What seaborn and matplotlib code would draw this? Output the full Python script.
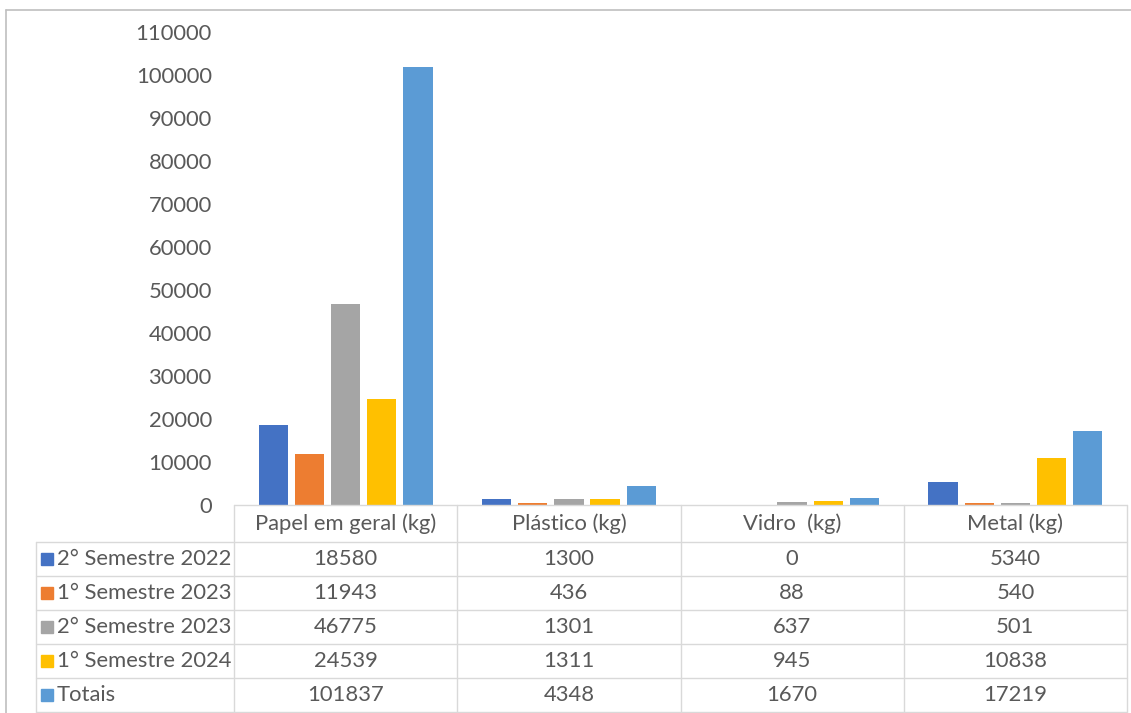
import matplotlib
matplotlib.use("Agg")
import matplotlib.pyplot as plt
import matplotlib.transforms as mtrans
from matplotlib.lines import Line2D
import seaborn as sns
import pandas as pd

# dados do grafico
categorias = ["Papel em geral (kg)", "Plástico (kg)", "Vidro  (kg)", "Metal (kg)"]
series = ["2° Semestre 2022", "1° Semestre 2023", "2° Semestre 2023",
          "1° Semestre 2024", "Totais"]
sem2_2022 = [18580, 1300, 0, 5340]
sem1_2023 = [11943, 436, 88, 540]
sem2_2023 = [46775, 1301, 637, 501]
sem1_2024 = [24539, 1311, 945, 10838]
totais = [101837, 4348, 1670, 17219]
valores = [sem2_2022, sem1_2023, sem2_2023, sem1_2024, totais]
cores = ["#4472C4", "#ED7D31", "#A5A5A5", "#FFC000", "#5B9BD5"]

W, H = 1131, 713
texto = "#595959"
grade = "#D9D9D9"
fs = 15.8

sns.set_theme(style="white")
plt.rcParams["font.family"] = ["Lato", "DejaVu Sans"]

df = pd.DataFrame(
    [(c, s, v) for s, vals in zip(series, valores) for c, v in zip(categorias, vals)],
    columns=["categoria", "serie", "valor"],
)

fig = plt.figure(figsize=(W / 100, H / 100), dpi=100)
ax = fig.add_axes([234 / W, 1 - 505 / H, 893 / W, 473 / H])
sns.barplot(data=df, x="categoria", y="valor", hue="serie", order=categorias,
            hue_order=series, palette=cores, width=0.81, gap=0.19, saturation=1,
            errorbar=None, linewidth=0, legend=False, ax=ax)

ax.set_xlim(-0.5, 3.5)
ax.set_ylim(0, 110000)
ax.set_yticks(range(0, 110001, 10000))
ax.set_xticks([])
ax.set_xlabel("")
ax.set_ylabel("")
ax.tick_params(axis="y", left=False, length=0, labelsize=fs, labelcolor=texto, pad=16)
sns.despine(ax=ax, left=True, bottom=True)

# tabela de dados abaixo do grafico
def yax(py):
    return (505 - py) / 473

blend = mtrans.blended_transform_factory(ax.transData, ax.transAxes)
linhas = [505, 542, 576, 610, 644, 678, 712]
x_esq = (36 - 234) / 893

ax.plot([-0.5, 3.5], [yax(505)] * 2, transform=blend, color=grade, lw=1, clip_on=False)
for py in linhas[1:]:
    ax.plot([x_esq, 1], [yax(py)] * 2, transform=ax.transAxes, color=grade, lw=1,
            clip_on=False)
for i in range(len(categorias) + 1):
    ax.plot([i - 0.5] * 2, [yax(505), yax(712)], transform=blend, color=grade, lw=1,
            clip_on=False)
ax.plot([x_esq] * 2, [yax(542), yax(712)], transform=ax.transAxes, color=grade, lw=1,
        clip_on=False)

for i, cat in enumerate(categorias):
    ax.text(i, yax(523.5), cat, transform=blend, ha="center", va="center",
            fontsize=fs, color=texto)

for r, (s, vals, cor) in enumerate(zip(series, valores, cores)):
    yc = yax((linhas[r + 1] + linhas[r + 2]) / 2)
    ax.plot([(47 - 234) / 893], [yc], transform=ax.transAxes, marker="s",
            markersize=8, color=cor, clip_on=False, lw=0)
    ax.text((57 - 234) / 893, yc, s, transform=ax.transAxes, ha="left",
            va="center", fontsize=fs, color=texto)
    for i, v in enumerate(vals):
        ax.text(i, yc, str(v), transform=blend, ha="center", va="center",
                fontsize=fs, color=texto)

# moldura do grafico
fig.add_artist(Line2D([6 / W, 1], [1 - 10 / H] * 2, transform=fig.transFigure,
                      color="#BFBFBF", lw=1.2))
fig.add_artist(Line2D([6 / W] * 2, [0, 1 - 10 / H], transform=fig.transFigure,
                      color="#BFBFBF", lw=1.2))

fig.savefig("out.png", dpi=100, facecolor="white")
